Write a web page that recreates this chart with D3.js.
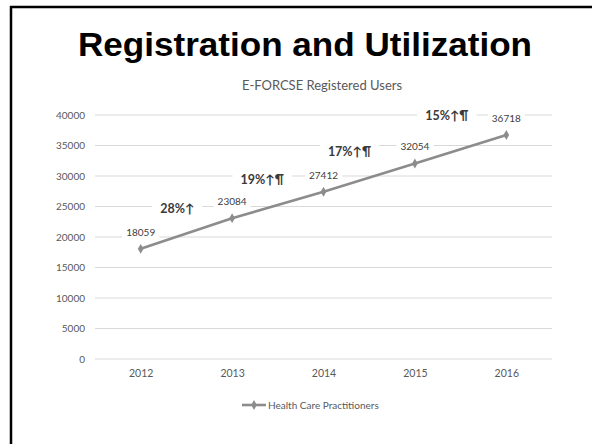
<!DOCTYPE html>
<html><head><meta charset="utf-8">
<script src="https://cdn.jsdelivr.net/npm/d3@7"></script>
<style>body{margin:0;background:#fff}svg{display:block}</style>
</head><body>
<svg id="c" width="592" height="444"></svg>
<script>
const years = ["2012","2013","2014","2015","2016"];
const users = [18059, 23084, 27412, 32054, 36718];
const growthLabels = ["28%↑","19%↑¶","17%↑¶","15%↑¶"];
const growthValues = [24600, 29350, 33950, 39850];
const growthOffsets = [0.40, 0.33, 0.285, 0.35];
const yTicks = [0,5000,10000,15000,20000,25000,30000,35000,40000];
const seriesName = "Health Care Practitioners";
const title = "Registration and Utilization";
const subtitle = "E-FORCSE Registered Users";

const svg = d3.select("#c");
const narrow = "Lato,'Open Sans',sans-serif";

// slide frame
svg.append("line").attr("x1",10).attr("x2",592).attr("y1",7).attr("y2",7).attr("stroke","#000").attr("stroke-width",2.5);
svg.append("line").attr("x1",11).attr("x2",11).attr("y1",6).attr("y2",444).attr("stroke","#000").attr("stroke-width",2.5);

svg.append("text").attr("x",305).attr("y",56).attr("text-anchor","middle")
  .attr("font-family","Arial,'Liberation Sans',sans-serif").attr("font-weight","bold").attr("font-size",33)
  .attr("textLength",454).attr("lengthAdjust","spacingAndGlyphs")
  .attr("fill","#000").text(title);
svg.append("text").attr("x",322).attr("y",90).attr("text-anchor","middle")
  .attr("font-family",narrow).attr("font-size",13).attr("fill","#595959").text(subtitle);

const x = d3.scalePoint().domain(years).range([95,552]).padding(0.5);
const y = d3.scaleLinear().domain([0,40000]).range([359,115]);

// gridlines
const grid = svg.append("g").attr("stroke","#d9d9d9").attr("stroke-width",1.2);
grid.selectAll("line").data(yTicks).join("line")
  .attr("x1",95).attr("x2",552).attr("y1",d=>y(d)).attr("y2",d=>y(d));

// y axis
const yAxis = svg.append("g").attr("transform","translate(89,0)")
  .call(d3.axisLeft(y).tickValues(yTicks).tickSize(0).tickPadding(4).tickFormat(d3.format("d")));
yAxis.select(".domain").remove();
yAxis.selectAll("text").attr("font-family",narrow).attr("font-size",10).attr("fill","#595959");

// x axis
const xAxis = svg.append("g").attr("transform","translate(0,370)")
  .call(d3.axisBottom(x).tickSize(0).tickPadding(0));
xAxis.select(".domain").remove();
xAxis.selectAll("text").attr("font-family",narrow).attr("font-size",10.5).attr("fill","#595959");

// line
svg.append("path").datum(users)
  .attr("d", d3.line().x((d,i)=>x(years[i])).y(d=>y(d)))
  .attr("fill","none").attr("stroke","#8c8c8c").attr("stroke-width",2.6);
svg.selectAll(".pt").data(users).join("path").attr("class","pt")
  .attr("transform",(d,i)=>`translate(${x(years[i])},${y(d)})`)
  .attr("d", d3.symbol(d3.symbolDiamond, 28)())
  .attr("fill","#8c8c8c");

// labels with white background
function boxedText(g, tx, ty, str, opts){
  const t = g.append("text").attr("x",tx).attr("y",ty).attr("text-anchor","middle")
    .attr("dominant-baseline","central")
    .attr("font-family",opts.family||narrow).attr("font-size",opts.size).attr("font-weight",opts.weight||"normal")
    .attr("fill",opts.fill).text(str);
  const bb = t.node().getBBox();
  g.insert("rect","text").attr("x",bb.x-opts.pad).attr("y",bb.y-1).attr("width",bb.width+2*opts.pad).attr("height",bb.height+2)
    .attr("fill","#fff");
}
const vl = svg.append("g");
users.forEach((v,i)=>{
  boxedText(vl.append("g"), x(years[i]), y(v)-17, String(v), {size:10, fill:"#404040", pad:4});
});
const gl = svg.append("g");
const step = x.step();
growthLabels.forEach((s,i)=>{
  const cx = x(years[i]) + growthOffsets[i]*step;
  boxedText(gl.append("g"), cx, y(growthValues[i]), s, {size:12.5, weight:"bold", fill:"#3a3a3a", pad:8, family:"Lato,'DejaVu Sans',sans-serif"});
});

// legend
const lg = svg.append("g").attr("transform","translate(242,405)");
lg.append("line").attr("x1",0).attr("x2",24).attr("y1",0).attr("y2",0).attr("stroke","#8c8c8c").attr("stroke-width",2.6);
lg.append("path").attr("transform","translate(12,0)").attr("d",d3.symbol(d3.symbolDiamond,28)()).attr("fill","#8c8c8c");
lg.append("text").attr("x",26).attr("y",0).attr("dominant-baseline","central")
  .attr("font-family",narrow).attr("font-size",10).attr("fill","#595959").text(seriesName);
</script>
</body></html>
